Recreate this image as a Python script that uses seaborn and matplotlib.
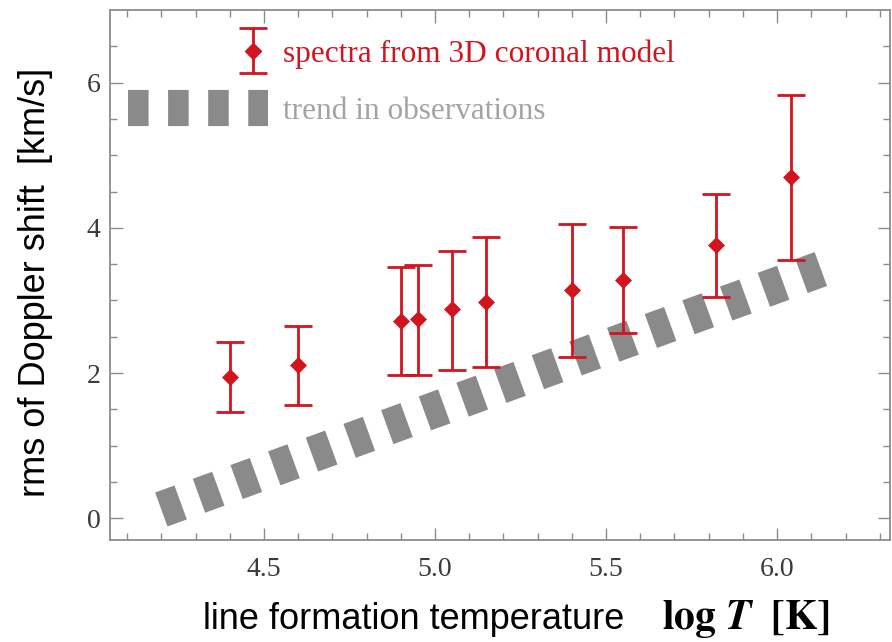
import numpy as np
import pandas as pd
import matplotlib
matplotlib.use("Agg")
import matplotlib.pyplot as plt
import seaborn as sns
from matplotlib.lines import Line2D
from matplotlib.legend_handler import HandlerErrorbar, HandlerTuple

# ---- data ----
log_T = [4.40, 4.60, 4.90, 4.95, 5.05, 5.15, 5.40, 5.55, 5.82, 6.04]
rms = [1.94, 2.11, 2.72, 2.74, 2.88, 2.98, 3.14, 3.28, 3.77, 4.70]
rms_low = [1.46, 1.56, 1.97, 1.97, 2.04, 2.08, 2.22, 2.55, 3.05, 3.56]
rms_high = [2.43, 2.65, 3.46, 3.49, 3.68, 3.88, 4.05, 4.01, 4.47, 5.83]
trend_x = [4.20, 6.15]
trend_y = [0.12, 3.47]
x_ticks = [4.5, 5.0, 5.5, 6.0]
y_ticks = [0, 2, 4, 6]
label_model = "spectra from 3D coronal model"
label_trend = "trend in observations"

RED = "#d2141e"
GRAY = "#8a8a8a"
SPINE = "#8c8c8c"
SERIF = ["Liberation Serif", "DejaVu Serif"]

sns.set_style("ticks")
plt.rcParams["font.family"] = ["Liberation Sans", "DejaVu Sans"]
plt.rcParams["mathtext.fontset"] = "stix"

fig = plt.figure(figsize=(8.92, 6.42), dpi=100)
ax = fig.add_axes([110 / 892, 1 - 540 / 642, 780 / 892, 530 / 642])

df = pd.DataFrame({"x": log_T, "y": rms, "lo": rms_low, "hi": rms_high})
tr = pd.DataFrame({"x": trend_x, "y": trend_y})

# trend line (thick dashed gray)
sns.lineplot(data=tr, x="x", y="y", ax=ax, color=GRAY, lw=26,
             linestyle=(0, (0.57, 0.54)), legend=False, zorder=1)
for ln in ax.lines:
    ln.set_dash_capstyle("butt")

# error bars + diamond markers
yerr = np.vstack([df["y"] - df["lo"], df["hi"] - df["y"]])
eb = ax.errorbar(df["x"], df["y"], yerr=yerr, fmt="none", ecolor=RED,
                 elinewidth=2.0, capsize=10, capthick=2.0, zorder=3)
sns.scatterplot(data=df, x="x", y="y", ax=ax, marker="D", s=75,
                color=RED, edgecolor=RED, linewidth=0, zorder=4, legend=False)

ax.set_xlim(4.05, 6.33)
ax.set_ylim(-0.3, 7.0)
ax.set_xticks(x_ticks)
ax.set_xticklabels([f"{v:.1f}" for v in x_ticks])
ax.set_yticks(y_ticks)
ax.set_yticklabels([str(v) for v in y_ticks])
ax.set_xticks(np.arange(4.1, 6.35, 0.1), minor=True)
ax.set_yticks(np.arange(0, 7.0, 0.5), minor=True)
ax.tick_params(which="both", direction="in", top=True, right=True,
               color=SPINE, width=1.0)
ax.tick_params(which="major", length=9, labelsize=20, labelcolor="#3a3a3a")
ax.tick_params(axis="x", which="major", pad=12)
ax.tick_params(axis="y", which="major", pad=7)
ax.tick_params(which="minor", length=5)
for lab in ax.get_xticklabels() + ax.get_yticklabels():
    lab.set_family(SERIF)
for sp in ax.spines.values():
    sp.set_color(SPINE)
    sp.set_linewidth(1.3)

ax.set_xlabel("line formation temperature", fontsize=26, color="black")
ax.set_ylabel("rms of Doppler shift  [km/s]", fontsize=26, color="black")
ax.xaxis.set_label_coords(0.389, -0.117)
ax.yaxis.set_label_coords(-0.073, 0.487)
ax.annotate(r"$\mathbf{log}\ \mathbfit{T}\ \ \mathbf{[K]}$", xy=(1.0, 0.0),
            xycoords=ax.xaxis.label, xytext=(27, -2), textcoords="offset points",
            ha="left", va="bottom", fontsize=30, color="black",
            annotation_clip=False)

# legend: model entry (error bar with diamond)
diamond = Line2D([], [], marker="D", ms=8.5, color=RED, ls="none")
leg1 = ax.legend([(eb, diamond)], [label_model], loc="center left",
                 bbox_to_anchor=(0.164, 0.917), frameon=False,
                 handlelength=0.96, handletextpad=0.48, borderpad=0, borderaxespad=0,
                 prop={"family": SERIF, "size": 22.5},
                 handler_map={type(eb): HandlerErrorbar(yerr_size=0.72),
                              tuple: HandlerTuple(ndivide=1)})
for t in leg1.get_texts():
    t.set_color(RED)
ax.add_artist(leg1)

trend_handle = Line2D([], [], color=GRAY, lw=26, linestyle=(0, (0.57, 0.54)),
                      dash_capstyle="butt")
leg2 = ax.legend([trend_handle], [label_trend], loc="center left",
                 bbox_to_anchor=(0.023, 0.808), frameon=False,
                 handlelength=4.48, handletextpad=0.48, borderpad=0, borderaxespad=0,
                 prop={"family": SERIF, "size": 22.5})
for t in leg2.get_texts():
    t.set_color("#a3a3a3")

fig.savefig("out.png", dpi=100)
